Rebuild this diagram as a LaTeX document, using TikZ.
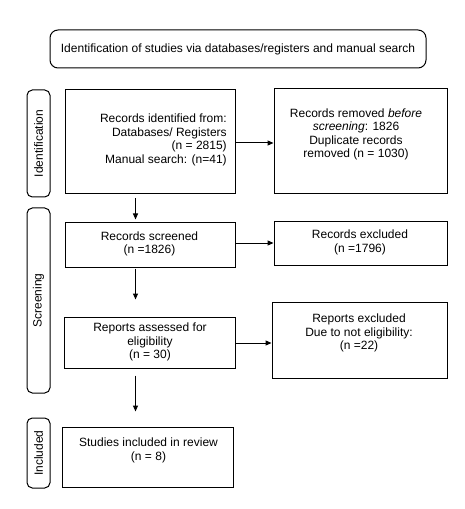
\documentclass[tikz,border=0pt]{standalone}
\usepackage{fontspec}
\setmainfont{Liberation Sans}
\usetikzlibrary{arrows.meta,fit}
\begin{document}
\begin{tikzpicture}[x=0.75pt,y=-0.75pt,
  box/.style={draw,line width=0.75pt,inner sep=0pt},
  side/.style={draw,line width=0.75pt,inner sep=0pt,rounded corners=4pt},
  txt/.style={font=\fontsize{9}{10.1}\selectfont,inner sep=0pt,align=center},
  arr/.style={line width=0.75pt,-{Triangle[length=4.5pt,width=3.75pt]}}]
\useasboundingbox (0,0) rectangle (464,509);
% title
\node[side, rounded corners=6pt, fit={(50,30) (426,68)}] (title) {};
\node[txt] (titletext) at (238,49) {Identification of studies via databases/registers and manual search};
% side labels
\node[side, fit={(27,90) (50,197)}] (sidA) {};
\node[txt, rotate=90] (sidAt) at (38.5,143.5) {Identification};
\node[side, fit={(27,208) (50,393)}] (sidB) {};
\node[txt, rotate=90] (sidBt) at (38.5,300.5) {Screening};
\node[side, fit={(27,418) (50,488)}] (sidC) {};
\node[txt, rotate=90] (sidCt) at (38.5,453) {Included};
% boxes
\node[box, fit={(65,90) (235,194)}] (b1) {};
\node[txt, align=right, anchor=east] (b1t) at (227,140) {Records identified from:\\Databases/ Registers\\(n = 2815)\\Manual search: (n=41)};
\node[box, fit={(274,89) (447,194)}] (b2) {};
\node[txt] (b2t) at (356,134.5) {Records removed \textit{before}\\\textit{screening}: 1826\\Duplicate records\\removed (n = 1030)};
\node[box, fit={(65,223) (235,267)}] (sc) {};
\node[txt] (sct) at (149.5,244) {Records screened\\(n =1826)};
\node[box, fit={(274,222) (447,265)}] (ex) {};
\node[txt] (ext) at (360,242.5) {Records excluded\\(n =1796)};
\node[box, fit={(64,317) (235,368)}] (ra) {};
\node[txt] (rat) at (150,342) {Reports assessed for\\eligibility\\(n = 30)};
\node[box, fit={(272,302) (447,378)}] (re) {};
\node[txt] (ret) at (359,333) {Reports excluded\\Due to not eligibility:\\(n =22)};
\node[box, fit={(62,427) (233,487)}] (st) {};
\node[txt] (stt) at (148.5,450.5) {Studies included in review\\(n = 8)};
% connectors
\coordinate (colx) at (135.5,0);
\draw[arr] (b1.east |- 0,143) coordinate (a1s) -- (a1s -| b2.west);
\draw[arr] (sc.east |- 0,243) coordinate (a2s) -- (a2s -| ex.west);
\draw[arr] (ra.east |- 0,343) coordinate (a3s) -- (a3s -| re.west);
\draw[arr, shorten <=3pt, shorten >=2.25pt] (b1.south -| colx) -- (sc.north -| colx);
\draw[arr, shorten <=0.75pt, shorten >=12.75pt] (sc.south -| colx) -- (ra.north -| colx);
\draw[arr, shorten <=5.25pt, shorten >=11.25pt] (ra.south -| colx) -- (st.north -| colx);
\end{tikzpicture}
\end{document}
